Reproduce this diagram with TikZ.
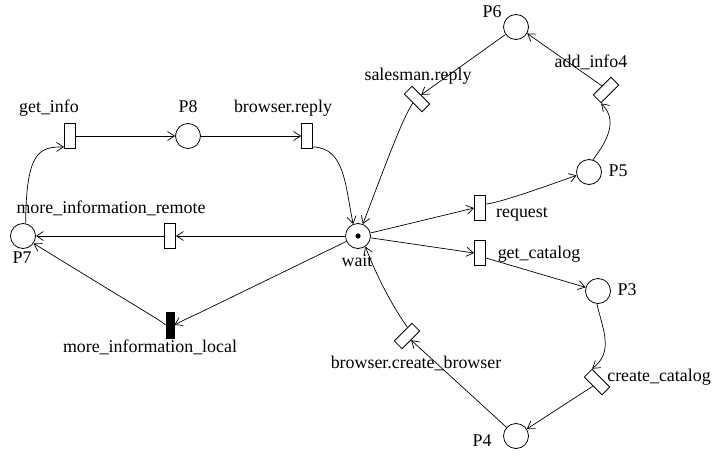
\documentclass[tikz,border=0pt]{standalone}
\usepackage{fontspec}
\setmainfont{LiberationSerif}[Extension=.ttf,UprightFont=*-Regular,BoldFont=*-Bold]
\usetikzlibrary{arrows.meta,calc}
\begin{document}
\begin{tikzpicture}[x=1pt,y=-1pt,
  place/.style={circle,draw,line width=0.8pt,minimum size=25pt,inner sep=0pt},
  trans/.style={rectangle,draw,line width=0.8pt,minimum width=11pt,minimum height=25pt,inner sep=0pt},
  blacktrans/.style={trans,fill=black,minimum width=8pt,minimum height=26pt},
  arr/.style={-{Straight Barb[length=7pt,width=9pt]},line width=0.7pt},
  lbl/.style={font=\rmfamily\fontsize{17.9}{20}\selectfont,inner sep=0pt,text height=12pt,text depth=4pt}]
\useasboundingbox (0,0) rectangle (714,455);

% places
\node[place] (wait) at (358,236) {};
\fill (wait) circle (2.6pt);
\node[place] (P7) at (23,236) {};
\node[place] (P8) at (188,136) {};
\node[place] (P6) at (516,27) {};
\node[place] (P5) at (589,172) {};
\node[place] (P3) at (598,291) {};
\node[place] (P4) at (516,436) {};

% transitions
\node[trans] (gi) at (70,136) {};
\node[trans] (br) at (307,136) {};
\node[trans] (mir) at (170,236) {};
\node[blacktrans] (mil) at (170,325) {};
\node[trans] (req) at (480,208) {};
\node[trans] (gc) at (480,253) {};
\node[trans,rotate=45] (sr) at (417,99) {};
\node[trans,rotate=-45] (ai) at (606,90) {};
\node[trans,rotate=45] (cc) at (597,382) {};
\node[trans,rotate=-45] (bcb) at (407,336) {};

% labels
\node[lbl] (l1) at (49,108) {get\_info};
\node[lbl] (l2) at (188,108) {P8};
\node[lbl] (l3) at (283,108) {browser.reply};
\node[lbl] (l4) at (111,209) {more\_information\_remote};
\node[lbl] (l5) at (22,259) {P7};
\node[lbl] (l6) at (150,348) {more\_information\_local};
\node[lbl] (l7) at (357,262) {wait};
\node[lbl] (l8) at (492,13) {P6};
\node[lbl] (l9) at (418,76) {salesman.reply};
\node[lbl] (l10) at (591,63) {add\_info4};
\node[lbl] (l11) at (618,172) {P5};
\node[lbl] (l12) at (522,213) {request};
\node[lbl] (l13) at (539,254) {get\_catalog};
\node[lbl] (l14) at (627,291) {P3};
\node[lbl] (l15) at (659,377) {create\_catalog};
\node[lbl] (l16) at (482,442) {P4};
\node[lbl] (l17) at (416,364) {browser.create\_browser};

% arcs
\draw[arr] (P7.78) .. controls (26,150) and (40,147) .. ($(gi.south west)+(0,-2)$);
\draw[arr] (gi) -- (P8);
\draw[arr] (P8) -- (br);
\draw[arr] ($(br.south east)+(0,-2)$) .. controls (345,148) and (345,185) .. (wait.112);
\draw[arr] (wait) -- (mir);
\draw[arr] (mir) -- (P7);
\draw[arr] (wait.205) -- (197,314) .. controls (188,318) and (182,321) .. (mil.east);
\draw[arr] (mil.west) .. controls (160,320) and (155,318) .. (P7.-35);
\draw[arr] (wait) -- (req.west);
\draw[arr] ($(req.east)+(0,-4)$) .. controls (500,203) and (555,183) .. (P5.195);
\draw[arr] (P5.72) .. controls (608,140) and (618,120) .. (ai.south east);
\draw[arr] (ai.west) -- (P6.-30);
\draw[arr] (P6) -- (sr.east);
\draw[arr] (sr.west) .. controls (402,118) and (378,185) .. (wait.68);
\draw[arr] (wait) -- (gc.west);
\draw[arr] ($(gc.east)+(0,5)$) -- (P3);
\draw[arr] (P3.265) .. controls (603,330) and (614,352) .. (cc.north east);
\draw[arr] (cc.west) -- (P4);
\draw[arr] (P4) -- (bcb.east);
\draw[arr] ($(bcb.west)!0.5!(bcb.north west)$) .. controls (395,310) and (378,280) .. (wait.-55);
\end{tikzpicture}
\end{document}
